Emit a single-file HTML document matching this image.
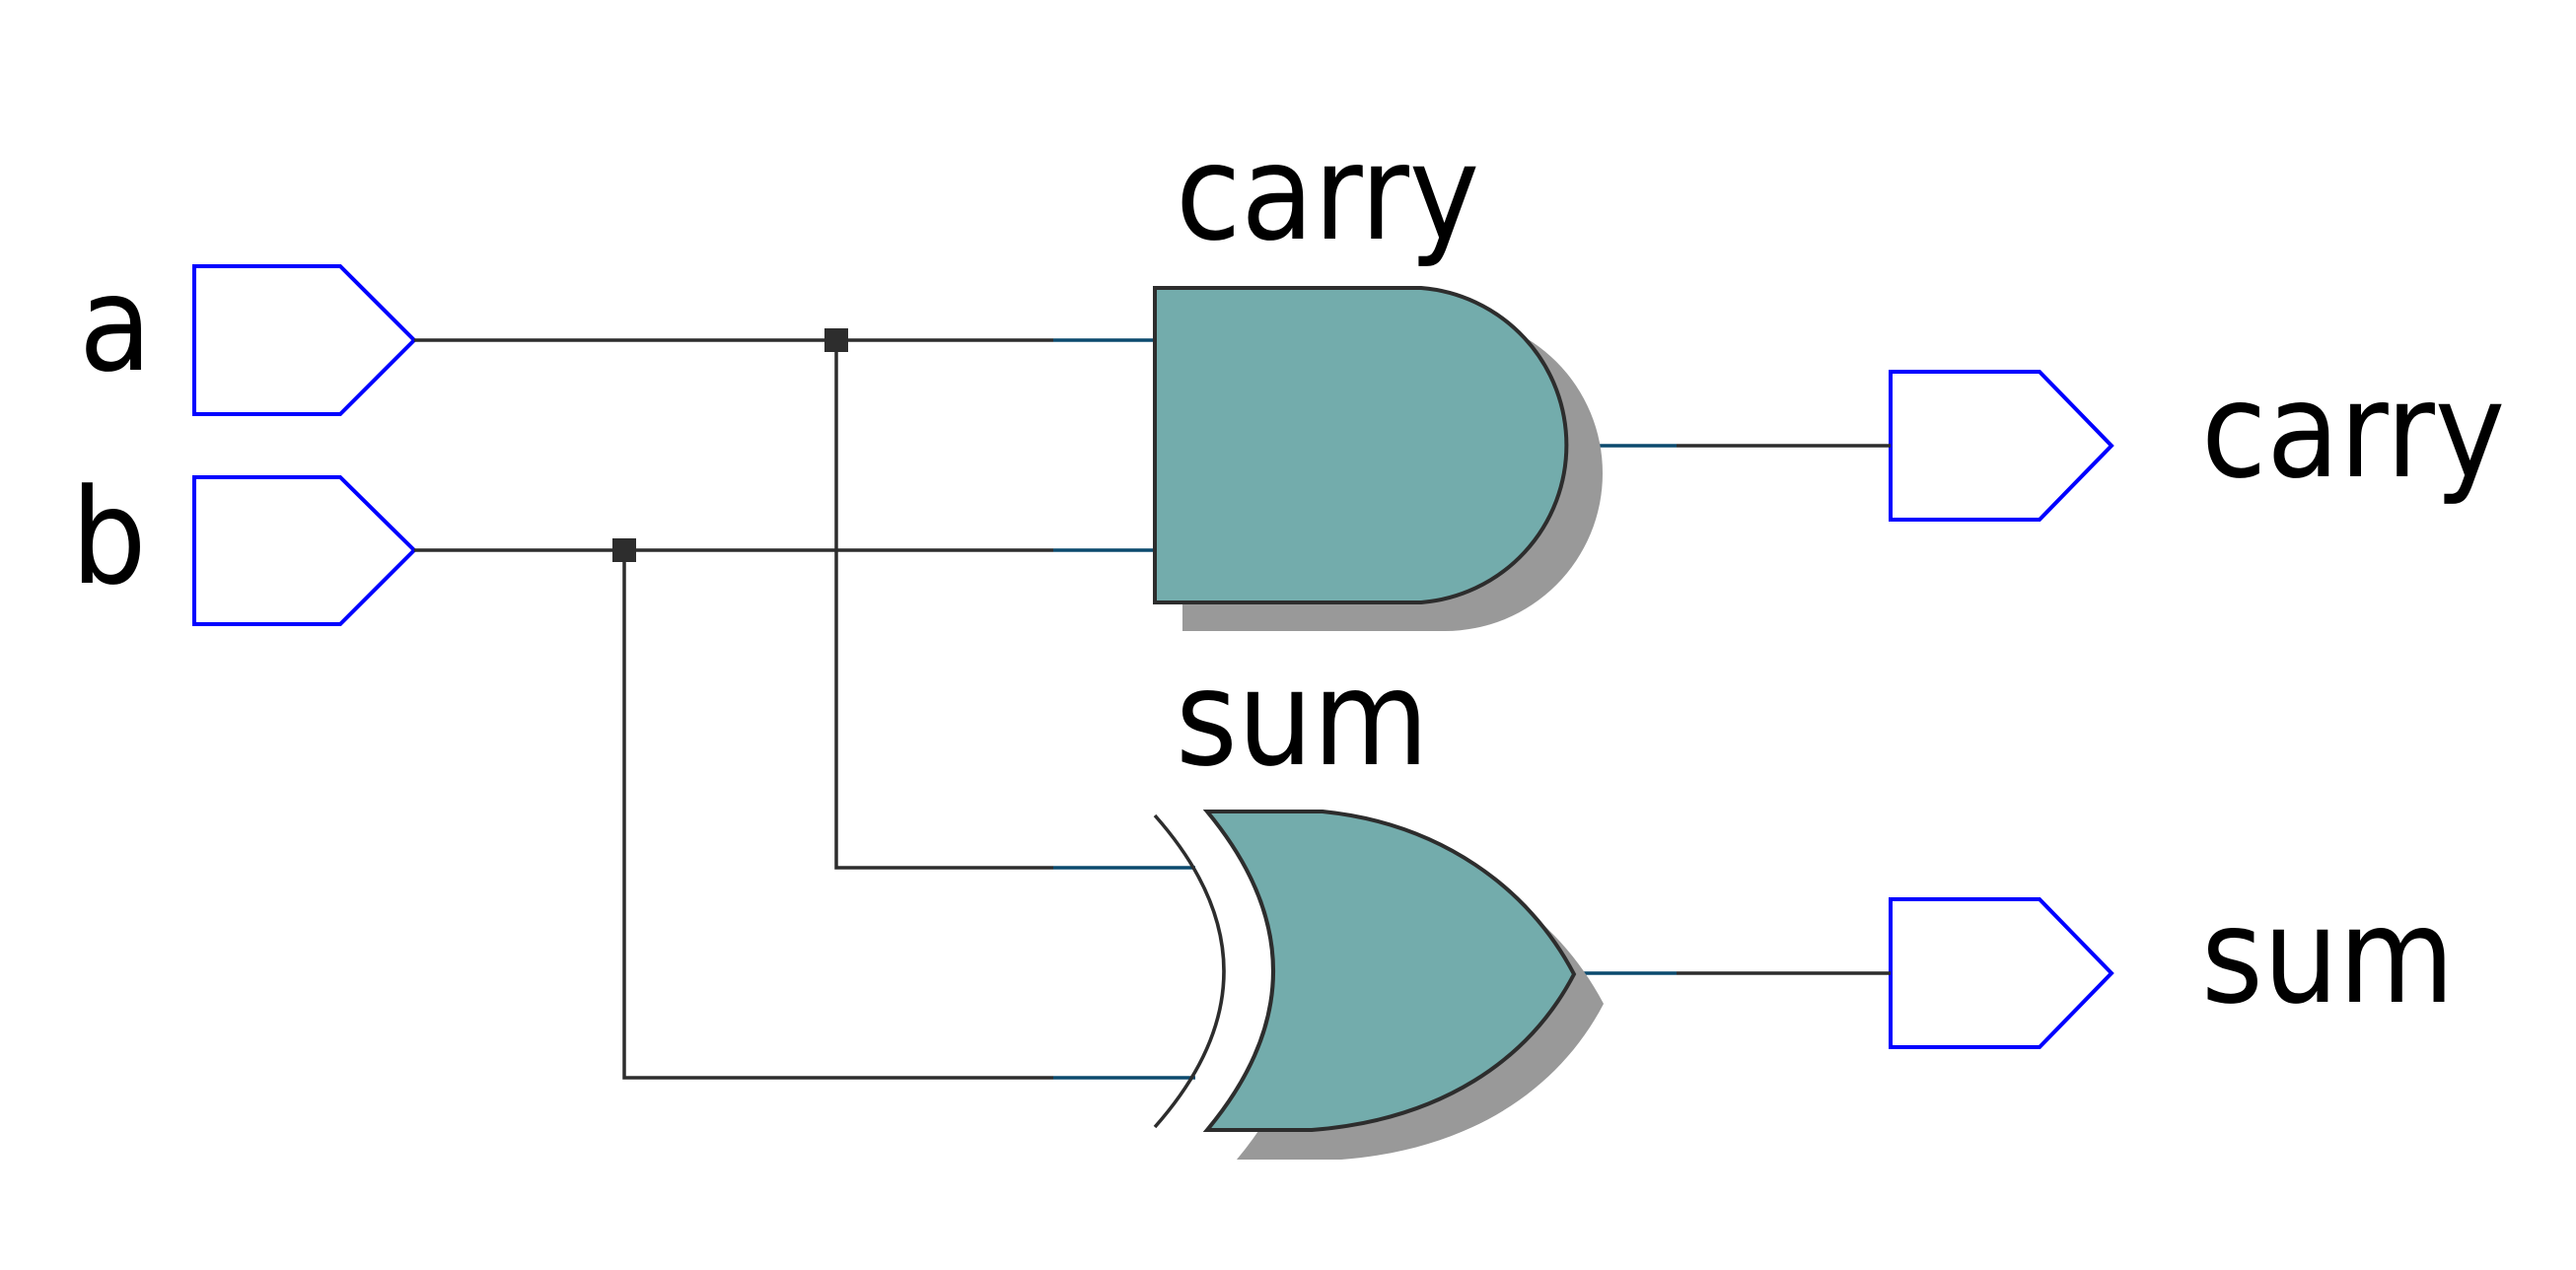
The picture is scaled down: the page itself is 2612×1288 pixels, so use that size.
<!DOCTYPE html>
<html><head><meta charset="utf-8"><style>
html,body{margin:0;padding:0;background:#fff;}
svg{display:block;}
text{font-family:"DejaVu Sans Condensed","DejaVu Sans","Liberation Sans Narrow",sans-serif;font-stretch:condensed;font-size:134px;fill:#000;}
</style></head><body>
<svg width="2612" height="1288" viewBox="0 0 2612 1288" xmlns="http://www.w3.org/2000/svg">
<rect width="2612" height="1288" fill="#fff"/>
<text x="80" y="375">a</text>
<text x="72" y="591">b</text>
<text x="1192" y="242">carry</text>
<text x="1192" y="775">sum</text>
<text x="2232" y="483">carry</text>
<text x="2232" y="1016">sum</text>

<path d="M197,270 L345,270 L420,345 L345,420 L197,420 Z" fill="#fff" stroke="#0000ff" stroke-width="4"/>
<path d="M197,484 L345,484 L420,558 L345,633 L197,633 Z" fill="#fff" stroke="#0000ff" stroke-width="4"/>
<path d="M1917,377 L2068,377 L2141,452 L2068,527 L1917,527 Z" fill="#fff" stroke="#0000ff" stroke-width="4"/>
<path d="M1917,912 L2068,912 L2141,987 L2068,1062 L1917,1062 Z" fill="#fff" stroke="#0000ff" stroke-width="4"/>

<g stroke="#2d2d2d" stroke-width="3.5" fill="none">
<line x1="420" y1="345" x2="1068" y2="345"/>
<line x1="420" y1="558" x2="1068" y2="558"/>
<polyline points="848,345 848,880 1068,880"/>
<polyline points="633,558 633,1093 1068,1093"/>
<line x1="1700" y1="452" x2="1917" y2="452"/>
<line x1="1700" y1="987" x2="1917" y2="987"/>
</g>
<g stroke="#0b4a6e" stroke-width="3.5" fill="none">
<line x1="1068" y1="345" x2="1171" y2="345"/>
<line x1="1068" y1="558" x2="1171" y2="558"/>
<line x1="1068" y1="880" x2="1212" y2="880"/>
<line x1="1068" y1="1093" x2="1212" y2="1093"/>
<line x1="1598" y1="452" x2="1700" y2="452"/>
<line x1="1596" y1="987" x2="1700" y2="987"/>
</g>
<rect x="836" y="333" width="24" height="24" fill="#2d2d2d"/>
<rect x="621" y="546" width="24" height="24" fill="#2d2d2d"/>

<path d="M1199,320 L1465,320 A160,160 0 0 1 1465,640 L1199,640 Z" fill="#999"/>
<path d="M1171,292 L1441,292 A160,160 0 0 1 1441,611 L1171,611 Z" fill="#73acac" stroke="#2d2d2d" stroke-width="4"/>

<path d="M1254,853 L1371,853 C1490,865 1580,930 1626,1018 C1580,1106 1490,1166 1360,1176 L1254,1176 Q1388,1015 1254,853 Z" fill="#999"/>
<path d="M1224,823 L1341,823 C1460,835 1550,900 1596,988 C1550,1076 1460,1136 1330,1146 L1224,1146 Q1358,985 1224,823 Z" fill="#73acac" stroke="#2d2d2d" stroke-width="4"/>
<path d="M1171,827 Q1311,985 1171,1143" fill="none" stroke="#2d2d2d" stroke-width="3.5"/>
</svg>
</body></html>
